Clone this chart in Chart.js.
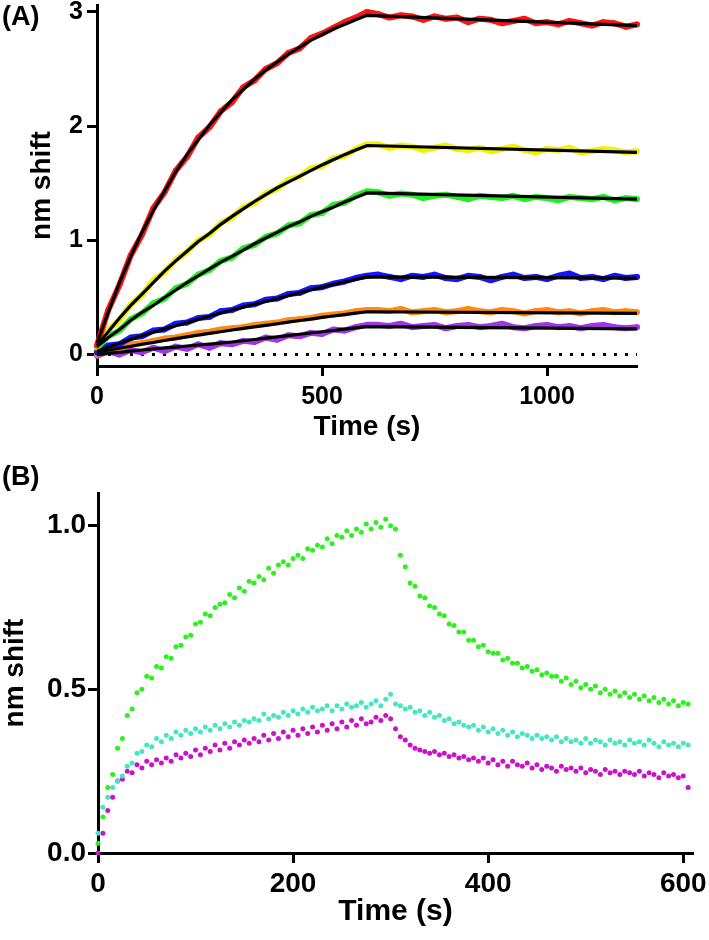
<!DOCTYPE html>
<html>
<head>
<meta charset="utf-8">
<script src="https://cdn.jsdelivr.net/npm/chart.js@4.4.1/dist/chart.umd.min.js"></script>
<style>
  body { margin: 0; background: #fff; width: 709px; height: 940px; position: relative; overflow: hidden; font-family: "Liberation Sans", Arial, sans-serif; }
  .panel { position: absolute; left: 0; width: 709px; }
  .panel canvas { display: block; }
  .tag { position: absolute; left: 2px; font-weight: bold; font-size: 27px; line-height: 27px; color: #000; }
</style>
</head>
<body>
<div class="panel" style="top:0;height:450px"><canvas id="chartA" width="709" height="450"></canvas></div>
<div class="panel" style="top:450px;height:490px"><canvas id="chartB" width="709" height="490"></canvas></div>
<div class="tag" style="top:3px">(A)</div>
<div class="tag" style="top:463px">(B)</div>
<script>
// ---- panel (A): association 0-600 s, dissociation 600-1200 s ----
const timeA = [0,25,50,75,100,125,150,175,200,225,250,275,300,325,350,375,400,425,450,475,500,525,550,575,600,
  625,650,675,700,725,750,775,800,825,850,875,900,925,950,975,1000,1025,1050,1075,1100,1125,1150,1175,1200];
const fitTimeA = [0,25,50,75,100,125,150,175,200,225,250,275,300,325,350,375,400,425,450,475,500,525,550,575,600,1200];
const xTicksA = [0, 500, 1000];
const yTicksA = [0, 1, 2, 3];

const redData = [0.08,0.39,0.61,0.87,1.05,1.28,1.42,1.61,1.73,1.90,1.99,2.13,2.21,2.34,2.40,2.50,2.55,2.64,2.68,2.77,2.81,2.86,2.91,2.95,3.00,
  2.98,2.95,2.97,2.96,2.93,2.96,2.94,2.95,2.91,2.94,2.93,2.90,2.92,2.94,2.90,2.91,2.89,2.92,2.90,2.88,2.91,2.90,2.87,2.89];
const yellowData = [0.07,0.22,0.30,0.44,0.52,0.65,0.72,0.83,0.90,1.00,1.05,1.15,1.20,1.29,1.33,1.41,1.45,1.53,1.56,1.63,1.65,1.72,1.74,1.80,1.84,
  1.84,1.81,1.83,1.82,1.79,1.81,1.83,1.80,1.79,1.81,1.78,1.80,1.82,1.79,1.77,1.80,1.79,1.81,1.77,1.78,1.80,1.79,1.77,1.78];
const greenData = [0.06,0.16,0.21,0.31,0.36,0.45,0.49,0.58,0.62,0.70,0.74,0.82,0.85,0.93,0.96,1.03,1.06,1.13,1.15,1.22,1.24,1.31,1.33,1.39,1.43,
  1.42,1.39,1.41,1.40,1.37,1.39,1.40,1.38,1.36,1.39,1.38,1.37,1.39,1.36,1.38,1.37,1.35,1.38,1.37,1.36,1.38,1.35,1.37,1.36];
const blueData = [0.02,0.08,0.09,0.15,0.16,0.21,0.22,0.27,0.28,0.32,0.33,0.38,0.39,0.43,0.44,0.48,0.49,0.53,0.54,0.58,0.59,0.62,0.64,0.67,0.69,
  0.70,0.68,0.66,0.69,0.68,0.70,0.67,0.66,0.69,0.68,0.65,0.68,0.70,0.67,0.68,0.66,0.69,0.71,0.67,0.68,0.66,0.69,0.67,0.68];
const orangeData = [0.00,0.05,0.06,0.09,0.10,0.12,0.14,0.15,0.17,0.19,0.20,0.22,0.23,0.24,0.26,0.27,0.28,0.30,0.31,0.32,0.34,0.35,0.36,0.38,0.39,
  0.39,0.38,0.40,0.37,0.38,0.39,0.37,0.38,0.40,0.38,0.37,0.39,0.38,0.36,0.38,0.39,0.37,0.38,0.36,0.38,0.39,0.37,0.38,0.37];
const purpleData = [-0.01,0.03,0.00,0.04,0.02,0.06,0.03,0.07,0.05,0.09,0.06,0.10,0.09,0.12,0.11,0.15,0.13,0.17,0.16,0.19,0.18,0.22,0.21,0.24,0.26,
  0.26,0.25,0.27,0.24,0.25,0.26,0.23,0.25,0.26,0.24,0.25,0.27,0.24,0.23,0.25,0.26,0.24,0.25,0.23,0.25,0.26,0.24,0.23,0.24];

const redFit = [0.10,0.37,0.63,0.86,1.07,1.26,1.43,1.60,1.75,1.88,2.01,2.12,2.23,2.32,2.41,2.49,2.56,2.63,2.69,2.75,2.80,2.85,2.89,2.93,2.97,2.88];
const yellowFit = [0.08,0.20,0.32,0.43,0.53,0.63,0.73,0.82,0.905,0.99,1.06,1.14,1.21,1.275,1.34,1.40,1.46,1.51,1.56,1.61,1.66,1.705,1.75,1.79,1.83,1.77];
const greenFit = [0.07,0.15,0.22,0.30,0.37,0.43,0.50,0.565,0.63,0.69,0.75,0.81,0.86,0.915,0.97,1.02,1.07,1.12,1.16,1.21,1.25,1.29,1.335,1.375,1.415,1.36];
const blueFit = [0.03,0.065,0.10,0.133,0.165,0.195,0.225,0.253,0.28,0.308,0.335,0.363,0.39,0.415,0.44,0.465,0.49,0.515,0.54,0.565,0.59,0.613,0.635,0.658,0.68,0.67];
const orangeFit = [0.02,0.038,0.055,0.073,0.09,0.106,0.123,0.139,0.155,0.17,0.185,0.20,0.215,0.229,0.243,0.256,0.27,0.284,0.298,0.311,0.325,0.338,0.35,0.363,0.375,0.36];
const purpleFit = [0.0,0.01,0.02,0.03,0.04,0.049,0.058,0.066,0.075,0.084,0.092,0.101,0.11,0.121,0.132,0.144,0.155,0.166,0.178,0.189,0.20,0.211,0.222,0.234,0.245,0.225];

const baselineX = [0, 1200];
const baselineY = [0, 0];

// ---- panel (B): 300 s association, 300 s dissociation ----
const timeB = [0,5,10,15,20,25,30,35,40,45,50,55,60,65,70,75,80,85,90,95,100,105,110,115,120,125,130,135,140,145,
  150,155,160,165,170,175,180,185,190,195,200,205,210,215,220,225,230,235,240,245,250,255,260,265,270,275,280,285,290,295,
  300,305,310,315,320,325,330,335,340,345,350,355,360,365,370,375,380,385,390,395,400,405,410,415,420,425,430,435,440,445,
  450,455,460,465,470,475,480,485,490,495,500,505,510,515,520,525,530,535,540,545,550,555,560,565,570,575,580,585,590,595,600,605];
const xTicksB = [0, 200, 400, 600];
const yTicksB = [0, 0.5, 1.0];

const greenB = [0.03,0.11,0.20,0.24,0.32,0.35,0.42,0.44,0.49,0.50,
  0.54,0.535,0.57,0.565,0.60,0.595,0.63,0.635,0.66,0.665,
  0.70,0.705,0.73,0.725,0.75,0.76,0.765,0.79,0.78,0.81,
  0.80,0.83,0.825,0.845,0.835,0.87,0.855,0.88,0.89,0.88,
  0.90,0.91,0.90,0.93,0.925,0.94,0.935,0.96,0.945,0.97,
  0.965,0.985,0.97,0.99,0.98,1.005,0.99,1.01,0.995,1.02,
  1.00,0.99,0.91,0.875,0.825,0.815,0.785,0.78,0.755,0.75,
  0.73,0.725,0.70,0.695,0.675,0.675,0.65,0.65,0.63,0.635,
  0.615,0.61,0.61,0.59,0.595,0.58,0.58,0.565,0.57,0.555,
  0.56,0.545,0.55,0.54,0.54,0.525,0.535,0.515,0.525,0.505,
  0.515,0.50,0.51,0.49,0.50,0.485,0.495,0.48,0.49,0.475,
  0.485,0.47,0.48,0.465,0.475,0.46,0.47,0.455,0.465,0.45,
  0.46,0.455];
const cyanB = [0.06,0.14,0.17,0.20,0.22,0.235,0.265,0.275,0.305,0.31,
  0.33,0.325,0.35,0.34,0.36,0.35,0.37,0.36,0.375,0.365,
  0.38,0.37,0.385,0.375,0.39,0.38,0.395,0.385,0.40,0.39,
  0.405,0.40,0.41,0.405,0.425,0.41,0.42,0.415,0.43,0.42,
  0.435,0.425,0.44,0.43,0.445,0.435,0.44,0.45,0.435,0.45,
  0.44,0.455,0.445,0.45,0.46,0.445,0.455,0.465,0.45,0.47,
  0.485,0.455,0.45,0.44,0.445,0.43,0.435,0.42,0.43,0.415,
  0.42,0.405,0.41,0.395,0.40,0.39,0.385,0.39,0.375,0.385,
  0.37,0.38,0.365,0.375,0.36,0.37,0.355,0.365,0.36,0.35,
  0.36,0.35,0.355,0.345,0.355,0.34,0.35,0.34,0.345,0.335,
  0.35,0.335,0.345,0.34,0.33,0.345,0.335,0.34,0.33,0.345,
  0.335,0.34,0.33,0.345,0.335,0.325,0.34,0.33,0.335,0.325,
  0.335,0.33];
const magentaB = [0.00,0.06,0.13,0.17,0.22,0.225,0.25,0.245,0.27,0.26,
  0.28,0.27,0.285,0.275,0.29,0.28,0.30,0.29,0.305,0.295,
  0.315,0.30,0.32,0.31,0.33,0.315,0.335,0.32,0.34,0.33,
  0.345,0.335,0.35,0.34,0.36,0.345,0.365,0.35,0.37,0.355,
  0.375,0.36,0.38,0.365,0.385,0.37,0.39,0.375,0.395,0.38,
  0.40,0.385,0.405,0.39,0.41,0.395,0.40,0.415,0.405,0.42,
  0.41,0.38,0.355,0.345,0.33,0.32,0.315,0.31,0.305,0.31,
  0.30,0.305,0.295,0.30,0.29,0.295,0.285,0.29,0.28,0.29,
  0.275,0.285,0.27,0.28,0.265,0.28,0.27,0.265,0.275,0.26,
  0.27,0.255,0.265,0.26,0.25,0.265,0.255,0.26,0.25,0.26,
  0.245,0.255,0.25,0.24,0.255,0.245,0.25,0.24,0.25,0.245,
  0.24,0.25,0.235,0.245,0.24,0.23,0.245,0.235,0.24,0.23,
  0.235,0.20];

// pair x and y arrays into points
function pts(xs, ys) {
    return xs.map((x, i) => ({ x: x, y: ys[i] }));
}

const font = 'Liberation Sans, Arial, sans-serif';

function axisStyle() {
    return {
        grid: { drawOnChartArea: false, drawTicks: true, tickLength: 10, tickWidth: 3, tickColor: '#000' },
        border: { display: true, color: '#000', width: 3 }
    };
}

// Panel A
const seriesA = [
    { color: '#ff1414', data: redData, fit: redFit },
    { color: '#f2f200', data: yellowData, fit: yellowFit },
    { color: '#22ee22', data: greenData, fit: greenFit },
    { color: '#1414ff', data: blueData, fit: blueFit },
    { color: '#ff8a10', data: orangeData, fit: orangeFit },
    { color: '#a335e8', data: purpleData, fit: purpleFit }
];

const datasetsA = [];
seriesA.forEach(s => {
    datasetsA.push({
        data: pts(timeA, s.data), borderColor: s.color, backgroundColor: s.color,
        borderWidth: 6, borderJoinStyle: 'round', borderCapStyle: 'round',
        pointRadius: 2.8, pointBorderWidth: 0, tension: 0, order: 2, clip: false
    });
    datasetsA.push({
        data: pts(fitTimeA, s.fit), borderColor: '#000', borderWidth: 3.2,
        pointRadius: 0, tension: 0, order: 0, clip: false
    });
});
datasetsA.push({
    data: pts(baselineX, baselineY), borderColor: '#000', borderWidth: 3,
    borderDash: [3, 8], pointRadius: 0, order: 3
});

new Chart(document.getElementById('chartA'), {
    type: 'line',
    data: { datasets: datasetsA },
    options: {
        responsive: false,
        animation: false,
        layout: { padding: { top: 5, right: 72, left: 0, bottom: 0 } },
        plugins: { legend: { display: false }, tooltip: { enabled: false } },
        scales: {
            x: Object.assign(axisStyle(), {
                type: 'linear', min: 0, max: 1200,
                afterBuildTicks: s => { s.ticks = xTicksA.map(v => ({ value: v })); },
                afterFit: s => { s.height = 84; s.paddingLeft = 0; s.paddingRight = 0; },
                ticks: { color: '#000', padding: 6, maxRotation: 0, font: { family: font, size: 25, weight: 'bold' }, callback: v => String(v) },
                title: { display: true, text: 'Time (s)', color: '#000', padding: { top: 0, bottom: 9 },
                    font: { family: font, size: 28, weight: 'bold', lineHeight: 1 } }
            }),
            y: Object.assign(axisStyle(), {
                type: 'linear', min: -0.1, max: 3.06,
                afterBuildTicks: s => { s.ticks = yTicksA.map(v => ({ value: v })); },
                afterFit: s => { s.width = 97; s.paddingTop = 0; s.paddingBottom = 0; },
                ticks: { color: '#000', padding: 4, font: { family: font, size: 25, weight: 'bold' }, callback: v => String(v) },
                title: { display: true, text: 'nm shift', color: '#000', padding: { top: 28, bottom: 0 },
                    font: { family: font, size: 28, weight: 'bold', lineHeight: 1 } }
            })
        }
    }
});

// Panel B
const seriesB = [
    { color: '#2ef01e', data: greenB },
    { color: '#45e6c0', data: cyanB },
    { color: '#c814c8', data: magentaB }
];

new Chart(document.getElementById('chartB'), {
    type: 'scatter',
    data: {
        datasets: seriesB.map(s => ({
            data: pts(timeB, s.data), backgroundColor: s.color, borderColor: s.color,
            pointRadius: 2.5, pointBorderWidth: 0, showLine: false, clip: false
        }))
    },
    options: {
        responsive: false,
        animation: false,
        layout: { padding: { top: 43, right: 16, left: 0, bottom: 0 } },
        plugins: { legend: { display: false }, tooltip: { enabled: false } },
        scales: {
            x: Object.assign(axisStyle(), {
                type: 'linear', min: 0, max: 610,
                afterBuildTicks: s => { s.ticks = xTicksB.map(v => ({ value: v })); },
                afterFit: s => { s.height = 87; s.paddingLeft = 0; s.paddingRight = 0; },
                ticks: { color: '#000', padding: 4, maxRotation: 0, font: { family: font, size: 28, weight: 'bold' }, callback: v => String(v) },
                title: { display: true, text: 'Time (s)', color: '#000', padding: { top: 0, bottom: 13 },
                    font: { family: font, size: 30, weight: 'bold', lineHeight: 1 } }
            }),
            y: Object.assign(axisStyle(), {
                type: 'linear', min: 0, max: 1.1,
                afterBuildTicks: s => { s.ticks = yTicksB.map(v => ({ value: v })); },
                afterFit: s => { s.width = 98; s.paddingTop = 0; s.paddingBottom = 0; },
                ticks: { color: '#000', padding: 2, font: { family: font, size: 28, weight: 'bold' }, callback: v => v.toFixed(1) },
                title: { display: true, text: 'nm shift', color: '#000', padding: { top: 1, bottom: 0 },
                    font: { family: font, size: 28, weight: 'bold', lineHeight: 1 } }
            })
        }
    }
});
</script>
</body>
</html>
